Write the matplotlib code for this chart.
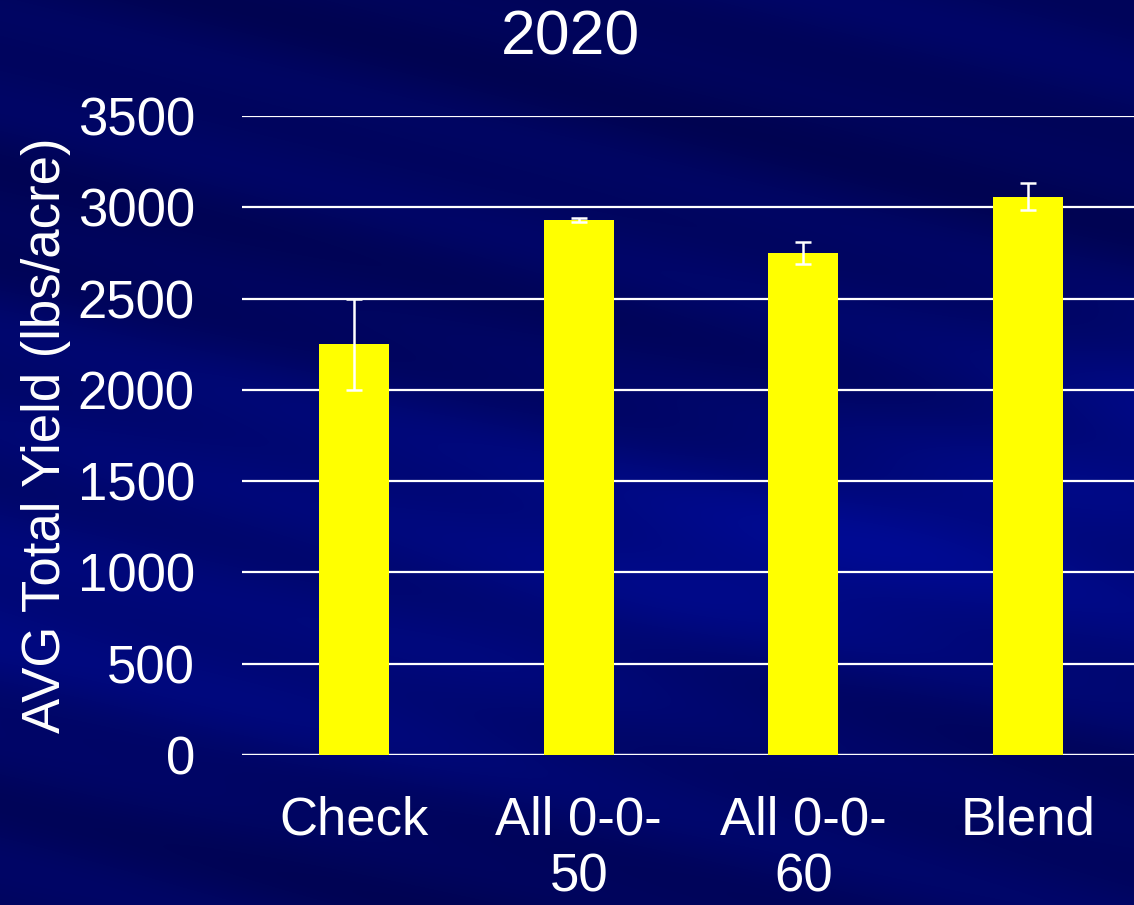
import numpy as np
import matplotlib
matplotlib.use("Agg")
import matplotlib.pyplot as plt

plt.rcParams['font.family'] = ['Liberation Sans', 'DejaVu Sans']

# yields per treatment, 2020
treatments = ['Check', 'All 0-0-\n50', 'All 0-0-\n60', 'Blend']
avg_yield = [2250, 2930, 2750, 3058]
yield_err = [250, 10, 58, 74]

fig = plt.figure(figsize=(11.34, 9.05), dpi=100)

# slide background: navy with soft diagonal streaks
bg = fig.add_axes([0, 0, 1, 1])
h, w = 905, 1134
yy, xx = np.mgrid[0:h, 0:w]
t = yy / h
base = 0.36 + 0.25 * np.exp(-((t - 0.62) / 0.22) ** 2)
diag = yy - 0.25 * xx
streak = 0.06 * np.sin(diag / 45.0) + 0.04 * np.sin(diag / 17.0 + 1.3)
bright = 0.18 * np.exp(-((yy - 520 + 0.3 * (xx - 900)) / 110.0) ** 2) * (xx / w)
level = np.clip(base + streak + bright, 0, 1)
img = np.zeros((h, w, 3))
img[..., 1] = 0.05 * level
img[..., 2] = 0.20 + 0.45 * level
img = np.clip(img, 0, 1)
bg.imshow(img, aspect='auto', extent=[0, 1, 0, 1], origin='upper')
bg.axis('off')

ax = fig.add_axes([242 / 1134, (905 - 755) / 905, (1140 - 242) / 1134, (755 - 116) / 905])
ax.patch.set_alpha(0)

x = np.arange(len(treatments))
ax.bar(x, avg_yield, width=0.31, color='#ffff00', zorder=3)
ax.errorbar(x, avg_yield, yerr=yield_err, fmt='none', ecolor='white',
            elinewidth=1.8, capsize=6, capthick=1.8, zorder=4)

ax.set_xlim(-0.5, 3.5)
ax.set_ylim(0, 3500)
ax.set_yticks(range(0, 3501, 500))
ax.yaxis.grid(True, color='white', linewidth=1.6, zorder=1)
ax.set_axisbelow(True)
for s in ax.spines.values():
    s.set_visible(False)
ax.axhline(0, color='white', linewidth=1.6, zorder=2)

ax.set_xticks(x)
ax.set_xticklabels(treatments, fontsize=38, color='white', linespacing=1.18, va='top')
ax.tick_params(axis='both', length=0, colors='white', labelsize=38)
ax.tick_params(axis='x', pad=29)
ax.tick_params(axis='y', pad=34)

ax.set_ylabel('AVG Total Yield (lbs/acre)', fontsize=38, color='white')
ax.yaxis.set_label_coords(-0.19, 0.5)
fig.text(571 / 1134, 1 - 38 / 905, '2020', fontsize=45, color='white',
         ha='center', va='center')

fig.savefig('out.png', dpi=100)
